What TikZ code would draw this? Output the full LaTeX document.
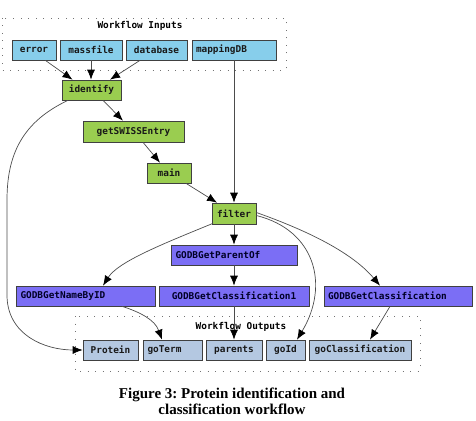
\documentclass[tikz,border=0pt]{standalone}
\usepackage{fontspec}
\setmonofont{DejaVu Sans Mono}
\setmainfont{Liberation Serif}
\usetikzlibrary{arrows.meta}
\frenchspacing
\definecolor{inblue}{RGB}{135,206,235}
\definecolor{procgreen}{RGB}{154,205,80}
\definecolor{godbpurple}{RGB}{123,110,245}
\definecolor{outblue}{RGB}{180,200,225}
\tikzset{
  base/.style={draw=black!75, line width=0.7pt, rectangle, inner sep=0pt, minimum height=20pt,
    font=\ttfamily\bfseries\fontsize{9.4}{10}\selectfont, text=black!90},
  inbox/.style={base, fill=inblue},
  procbox/.style={base, fill=procgreen},
  godbbox/.style={base, fill=godbpurple, text=black!85!blue},
  outbox/.style={base, fill=outblue},
  grp/.style={draw=black!55, line width=0.9pt, dash pattern=on 1pt off 6.5pt},
  grplabel/.style={font=\ttfamily\bfseries\fontsize{9.4}{10}\selectfont},
  conn/.style={draw=black!70, line width=0.7pt, -{Latex[length=10pt,width=8pt,color=black]}}
}
\begin{document}
\begin{tikzpicture}[x=1pt,y=-1pt]
\useasboundingbox (0,0) rectangle (476,420);
% groups
\draw[grp] (2,18) rectangle (286,70);
\node[grplabel] (inlab) at (140,26) {Workflow Inputs};
\draw[grp] (75,316) rectangle (420,371);
\node[grplabel] (outlab) at (241,327) {Workflow Outputs};
% inputs
\node[inbox, minimum width=44pt] (error) at (34,50) {error};
\node[inbox, minimum width=62pt] (massfile) at (91,50) {massfile};
\node[inbox, minimum width=61pt] (database) at (156.5,50) {database};
\node[inbox, minimum width=84pt, text width=76pt, align=left] (mappingDB) at (234,50) {mappingDB};
% processors
\node[procbox, minimum width=59pt] (identify) at (91.5,90) {identify};
\node[procbox, minimum width=101pt, minimum height=21pt] (getSWISSEntry) at (133.5,131.5) {getSWISSEntry};
\node[procbox, minimum width=44pt] (main) at (169,173) {main};
\node[procbox, minimum width=44pt, minimum height=21pt] (filter) at (234,213.5) {filter};
% GODB
\node[godbbox, minimum width=126pt, text width=117pt, align=left] (parentof) at (234,255) {GODBGetParentOf};
\node[godbbox, minimum width=150pt] (class1) at (234,296) {GODBGetClassification1};
\node[godbbox, minimum width=148pt, text width=140pt, align=left] (class) at (398,296) {GODBGetClassification};
\node[godbbox, minimum width=139pt, text width=130pt, align=left] (namebyid) at (85.5,296) {GODBGetNameByID};
% outputs
\node[outbox, minimum width=55pt] (protein) at (110.5,350) {Protein};
\node[outbox, minimum width=59pt, text width=50pt, align=left] (goterm) at (172.5,350) {goTerm};
\node[outbox, minimum width=56pt] (parents) at (234,350) {parents};
\node[outbox, minimum width=39pt] (goid) at (285.5,350) {goId};
\node[outbox, minimum width=102pt] (goclass) at (360,350) {goClassification};
% caption
\node[font=\bfseries\fontsize{15}{16}\selectfont, align=center] (cap) at (232,401) {Figure 3: Protein identification and\\classification workflow};
% connectors
\draw[conn] ([xshift=-11pt]error.south east) -- ([xshift=-19pt]identify.north);
\draw[conn] (massfile.south) -- ([xshift=-0.5pt]identify.north);
\draw[conn] ([xshift=-16.5pt]database.south) -- ([xshift=18.5pt]identify.north);
\draw[conn] (mappingDB.south) -- (filter.north);
\draw[conn] ([xshift=11.5pt]identify.south) -- ([xshift=-10.5pt]getSWISSEntry.north);
\draw[conn] ([xshift=9.5pt]getSWISSEntry.south) -- ([xshift=-9pt]main.north);
\draw[conn] ([xshift=17pt]main.south) -- ([xshift=-17pt]filter.north);
\draw[conn] (filter.south) -- (parentof.north);
\draw[conn] (parentof.south) -- (class1.north);
\draw[conn] (class1.south) -- (parents.north);
\draw[conn] ([xshift=-23.5pt]identify.south) .. controls (22,122) and (7,155) .. (7,200)
  -- (7,295) .. controls (7,335) and (45,350) .. (protein.west);
\draw[conn] ([xshift=-21pt,yshift=1pt]filter.south) .. controls (160,245) and (118,262) .. ([xshift=17.5pt]namebyid.north);
\draw[conn] ([yshift=-2pt]filter.east) .. controls (315,230) and (330,285) .. ([xshift=11.5pt]goid.north);
\draw[conn] ([yshift=1pt]filter.east) .. controls (300,228) and (350,250) .. ([xshift=-18pt]class.north);
\draw[conn] ([xshift=36.5pt]namebyid.south) .. controls (140,312) and (155,320) .. ([xshift=-10.5pt]goterm.north);
\draw[conn] ([xshift=-8pt]class.south) -- ([xshift=10pt]goclass.north);
\end{tikzpicture}
\end{document}
